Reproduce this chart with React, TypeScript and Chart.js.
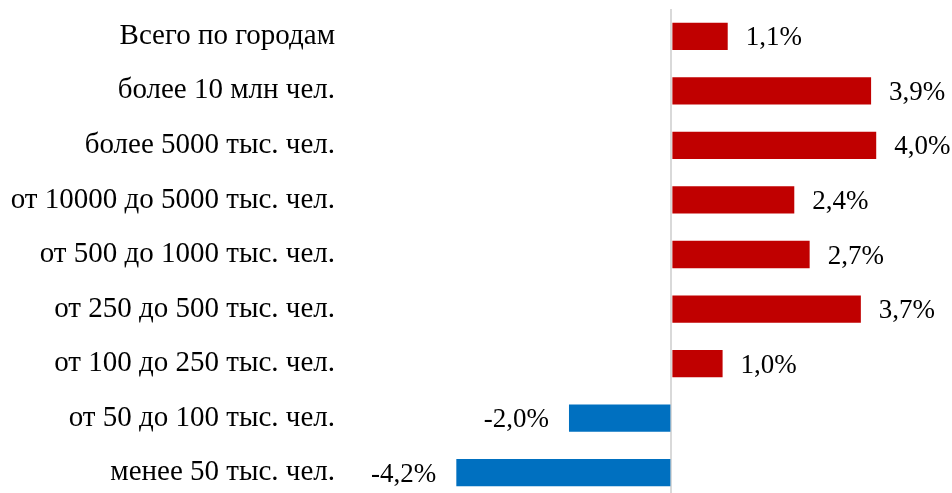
import React, { useEffect, useRef } from "react";
import { Chart, registerables } from "chart.js";

Chart.register(...registerables);

const categories = [
  "Всего по городам",
  "более 10 млн чел.",
  "более 5000 тыс. чел.",
  "от 10000 до 5000 тыс. чел.",
  "от 500 до 1000 тыс. чел.",
  "от 250 до 500 тыс. чел.",
  "от 100 до 250 тыс. чел.",
  "от 50 до 100 тыс. чел.",
  "менее 50 тыс. чел.",
];
const values = [1.1, 3.9, 4.0, 2.4, 2.7, 3.7, 1.0, -2.0, -4.2];

const RED = "#C00000";
const BLUE = "#0070C0";
const FONT = "'Liberation Serif', 'Times New Roman', serif";
const LABEL_SIZE = 27;
const TICK_SIZE = 29;

const fmt = (v: number) => v.toFixed(1).replace(".", ",") + "%";

const labelPlugin = {
  id: "barLabels",
  afterDatasetsDraw(chart: any) {
    const ctx = chart.ctx;
    const meta = chart.getDatasetMeta(0);
    ctx.save();
    ctx.font = `${LABEL_SIZE}px ${FONT}`;
    ctx.fillStyle = "#000";
    ctx.textBaseline = "middle";
    meta.data.forEach((el: any, i: number) => {
      const v = values[i];
      const t = fmt(v);
      if (v >= 0) {
        ctx.textAlign = "left";
        ctx.fillText(t, el.x + 18, el.y + 2);
      } else {
        ctx.textAlign = "right";
        ctx.fillText(t, el.x - 20, el.y + 2);
      }
    });
    ctx.restore();
  },
};

export default function App() {
  const ref = useRef<HTMLCanvasElement>(null);
  useEffect(() => {
    if (!ref.current) return;
    const chart = new Chart(ref.current, {
      type: "bar",
      data: {
        labels: categories,
        datasets: [
          {
            data: values,
            backgroundColor: values.map((v) => (v >= 0 ? RED : BLUE)),
            borderWidth: 0,
            barPercentage: 1,
            categoryPercentage: 0.5,
          },
        ],
      },
      options: {
        indexAxis: "y",
        responsive: false,
        animation: false,
        layout: { padding: { top: 9, bottom: 10, left: 0, right: 0 } },
        plugins: { legend: { display: false }, tooltip: { enabled: false } },
        scales: {
          x: {
            min: -5.3,
            max: 5.48,
            ticks: { display: false },
            border: { display: false },
            grid: {
              drawTicks: false,
              color: "#D9D9D9",
              lineWidth: 2,
            },
            afterBuildTicks: (scale: any) => {
              scale.ticks = [{ value: 0 }];
            },
          },
          y: {
            grid: { display: false },
            border: { display: false },
            ticks: {
              color: "#000",
              padding: 57,
              font: { family: FONT, size: TICK_SIZE },
            },
            afterFit: (scale: any) => {
              scale.width = 400;
              scale.paddingTop = 0;
              scale.paddingBottom = 0;
            },
          },
        },
      },
      plugins: [labelPlugin],
    });
    return () => chart.destroy();
  }, []);
  return (
    <div
      style={{
        position: "fixed",
        top: 0,
        left: 0,
        width: 952,
        height: 493,
        overflow: "hidden",
        background: "#fff",
      }}
    >
      <canvas ref={ref} width={952} height={510} style={{ display: "block" }} />
    </div>
  );
}
